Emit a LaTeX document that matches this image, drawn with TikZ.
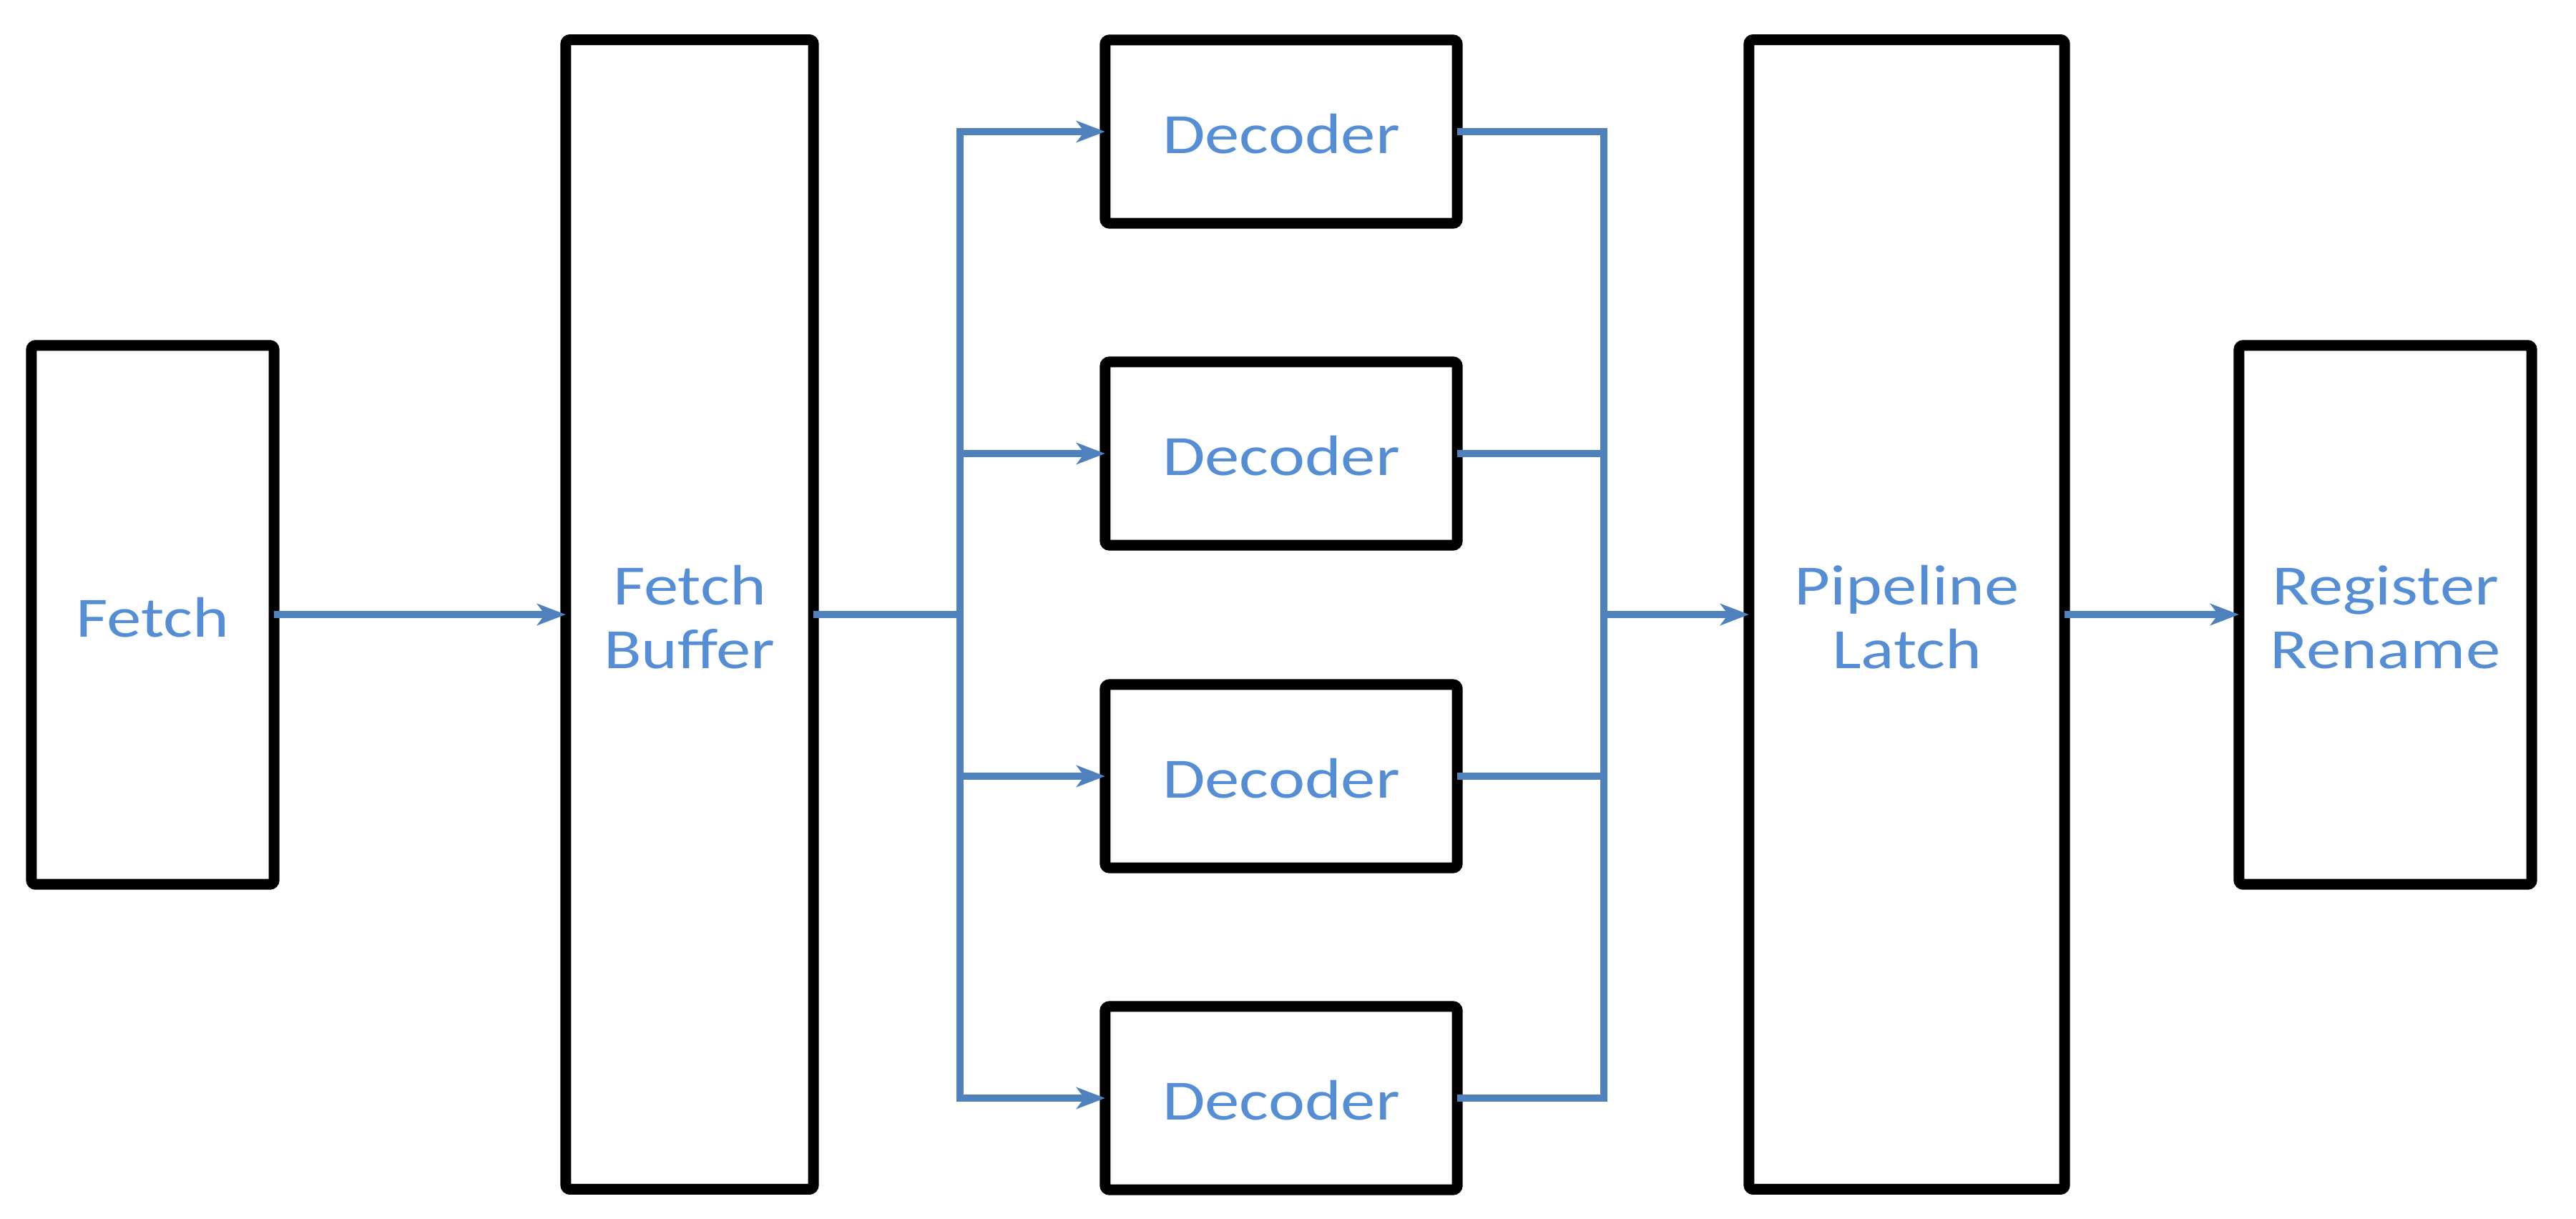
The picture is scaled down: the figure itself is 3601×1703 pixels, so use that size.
\documentclass[tikz,border=0pt]{standalone}
\usepackage{fontspec}
\setmainfont{Carlito}
\usetikzlibrary{positioning,calc,arrows.meta}

\definecolor{wire}{HTML}{4F81BD}
\definecolor{caption}{HTML}{558ED5}
\newcommand\lbl[1]{\raisebox{-0.13cm}[\height][\depth]{\scalebox{1.25}[1.03]{\begin{tabular}{@{}c@{}}#1\end{tabular}}}}

\begin{document}
\begin{tikzpicture}[x=0.01cm,y=-0.01cm]
  \useasboundingbox (0,0) rectangle (3601,1703);
  \begin{scope}[
    every node/.style={
      draw=black,
      line width=1.5mm,
      rounded corners=0.6mm,
      inner sep=0pt,
      outer sep=0pt,
      align=center,
      text=caption,
      font=\fontsize{22}{24.5}\selectfont,
    },
    ]
    \node[minimum width=3.39cm,minimum height=7.53cm]  (fetch)  at (213.5,859.5)  {\lbl{Fetch}};
    \node[minimum width=3.46cm,minimum height=16.06cm] (fbuf)   at (964,859)      {\lbl{Fetch\\Buffer}};
    \foreach \y [count=\i] in {184,634,1085,1535}
      \node[minimum width=4.92cm,minimum height=2.56cm] (dec\i) at (1791,\y)    {\lbl{Decoder}};
    \node[minimum width=4.41cm,minimum height=16.06cm] (latch)  at (2665.5,859)   {\lbl{Pipeline\\Latch}};
    \node[minimum width=4.09cm,minimum height=7.53cm]  (rename) at (3334.5,859.5) {\lbl{Register\\Rename}};
  \end{scope}
  \coordinate (split) at (1342,859);
  \coordinate (join)  at (2242,859);
  \begin{scope}[
    every path/.style={draw=wire,line width=0.95mm},
    >={Stealth[length=4mm,width=3mm,inset=1.1mm]},
    ]
    \path[->] (fetch.east |- split) -- (fbuf.west |- split);
    \path (fbuf.east |- split) -- (split);
    \path[line cap=rect] (split |- dec1) -- (split |- dec4);
    \foreach \i in {1,...,4}{
      \path[->] (split |- dec\i) -- (dec\i.west);
      \path (dec\i.east) -- (join |- dec\i);
    }
    \path[line cap=rect] (join |- dec1) -- (join |- dec4);
    \path[->] (join) -- (latch.west |- join);
    \path[->] (latch.east |- join) -- (rename.west |- join);
  \end{scope}
\end{tikzpicture}
\end{document}
